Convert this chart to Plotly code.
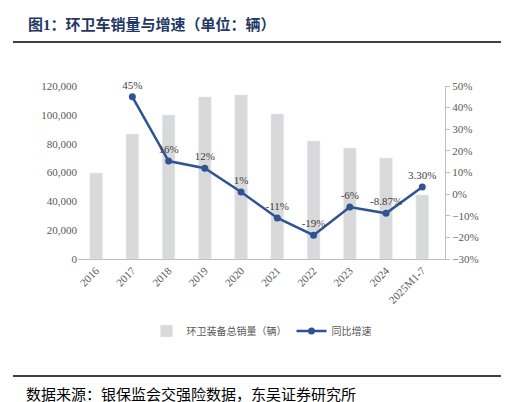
import plotly.graph_objects as go

years = ["2016","2017","2018","2019","2020","2021","2022","2023","2024","2025M1-7"]
sales = [59600, 86700, 99900, 112400, 113800, 100600, 81900, 77000, 70000, 44400]
growth_years = years[1:]
growth = [45, 15.3, 12, 1, -11, -19, -6, -8.87, 3.30]
growth_labels = ["45%", "16%", "12%", "1%", "-11%", "-19%", "-6%", "-8.87%", "3.30%"]

F = "Liberation Serif, Noto Sans CJK SC"
L, R, T, B = 70, 72, 78, 151
W, Hh = 509, 402
PW = W - L - R
H = Hh - B - T
def py(pix):
    return (Hh - B - pix) / H
def px(pix):
    return (pix - L) / PW

fig = go.Figure()
fig.add_trace(go.Bar(x=years, y=sales, name="环卫装备总销量（辆）", marker_color="#d9d9d9", width=0.35))
fig.add_trace(go.Scatter(x=growth_years, y=growth, name="同比增速", yaxis="y2", mode="lines+markers+text",
                         line=dict(color="#2f5496", width=2.5), marker=dict(size=7, color="#2f5496"),
                         text=growth_labels, textposition="top center", cliponaxis=False,
                         textfont=dict(size=11, color="#404040")))
fig.update_layout(
    width=W, height=Hh, margin=dict(l=L, r=R, t=T, b=B, autoexpand=False),
    paper_bgcolor="white", plot_bgcolor="white", font=dict(family=F, size=11, color="#595959"),
    bargap=0.5, showlegend=True,
    legend=dict(orientation="h", x=0.5, xanchor="center", y=py(323), yanchor="middle", font=dict(size=10, color="#595959")),
    xaxis=dict(tickangle=-45, showline=True, linecolor="#bfbfbf", ticks="", tickfont=dict(size=11)),
    yaxis=dict(range=[0, 120000], dtick=20000, tickformat=",", showgrid=False, showline=False, ticks=""),
    yaxis2=dict(range=[-30, 50], dtick=10, ticksuffix="%", overlaying="y", side="right", showgrid=False,
                showline=True, linecolor="#bfbfbf", ticks="outside", tickcolor="#bfbfbf", ticklen=4),
)
fig.add_annotation(text="<b>图1：环卫车销量与增速（单位：辆）</b>", xref="paper", yref="paper", x=px(18), xanchor="left",
                   y=py(17), yanchor="middle", showarrow=False, font=dict(size=15, color="#1f3864", family=F))
fig.add_shape(type="line", xref="paper", yref="paper", x0=px(5), x1=px(503), y0=py(34), y1=py(34), line=dict(color="black", width=1.5))
fig.add_shape(type="line", xref="paper", yref="paper", x0=px(5), x1=px(503), y0=py(368), y1=py(368), line=dict(color="black", width=1.5))
fig.add_annotation(text="数据来源：银保监会交强险数据，东吴证券研究所", xref="paper", yref="paper", x=px(16), xanchor="left",
                   y=py(386), yanchor="middle", showarrow=False, font=dict(size=15, color="black", family=F))
fig.write_html("out.html")
